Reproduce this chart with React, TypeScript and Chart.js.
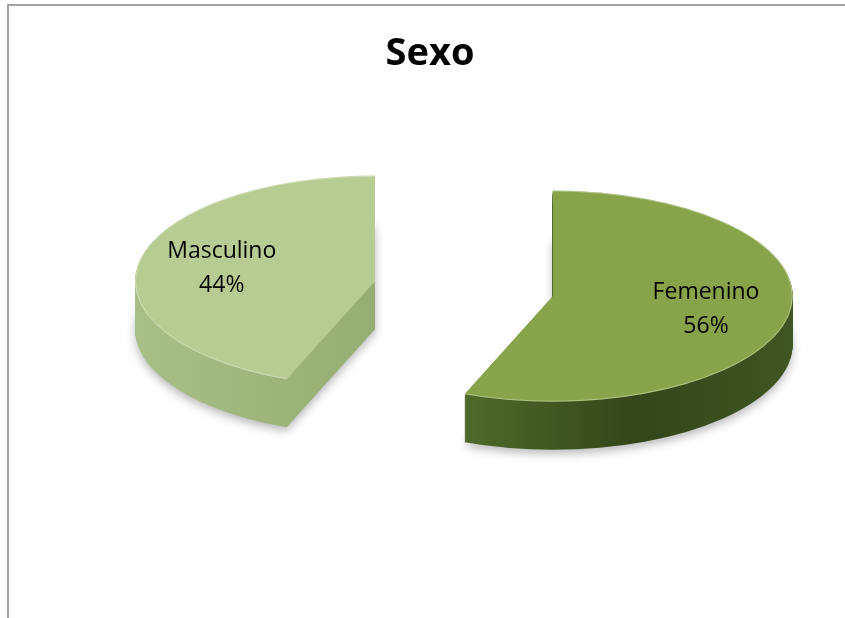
import { useEffect, useRef } from "react";
import { Chart, registerables } from "chart.js";

Chart.register(...registerables);

// ---- data ----
const TITLE = "Sexo";
const CATEGORIES = ["Femenino", "Masculino"];
const VALUES = [56, 44];

// ---- style ----
const TOP_COLORS = ["#88a44a", "#b7cc92"];
const SIDE_STOPS = [
  ["#62803a", "#4d6829", "#34461a", "#3f5522"],
  ["#a8bf88", "#9bb279", "#90a76d", "#8ba268"],
];
const EXPLODE = [125, 56];
const SQUASH = 0.44;
const DEPTH = 48;
const RADIUS = 240;

export default function App() {
  const ref = useRef<HTMLCanvasElement>(null);

  useEffect(() => {
    document.body.style.margin = "0";
    const canvas = ref.current!;

    const pie3d = {
      id: "pie3d",
      beforeDraw(chart: any) {
        const ctx = chart.ctx;
        ctx.save();
        ctx.fillStyle = "#ffffff";
        ctx.fillRect(0, 0, chart.width, chart.height);
        ctx.fillStyle = "#a3a3a3";
        ctx.fillRect(7, 4, chart.width - 7, 2);
        ctx.fillRect(7, 4, 2, chart.height - 4);
        ctx.restore();
      },
      beforeDatasetsDraw(chart: any) {
        const ctx = chart.ctx;
        const meta = chart.getDatasetMeta(0);
        const total = VALUES.reduce((a, b) => a + b, 0);
        const geo = meta.data.map((arc: any, i: number) => {
          const p = arc.getProps(["x", "y", "startAngle", "endAngle", "outerRadius"], true);
          const mid = (p.startAngle + p.endAngle) / 2;
          const cx = p.x + Math.cos(mid) * EXPLODE[i];
          const cy = p.y + Math.sin(mid) * EXPLODE[i] * SQUASH;
          return { ...p, mid, cx, cy, i };
        });
        const path = (g: any, dy: number) => {
          ctx.beginPath();
          ctx.moveTo(g.cx, g.cy + dy);
          ctx.ellipse(g.cx, g.cy + dy, g.outerRadius, g.outerRadius * SQUASH, 0, g.startAngle, g.endAngle);
          ctx.closePath();
        };
        // sides
        geo.forEach((g: any) => {
          const grad = ctx.createLinearGradient(g.cx - g.outerRadius, 0, g.cx + g.outerRadius, 0);
          const st = SIDE_STOPS[g.i];
          st.forEach((c, k) => grad.addColorStop(k / (st.length - 1), c));
          ctx.save();
          for (let k = DEPTH; k >= 1; k--) {
            if (k === DEPTH) {
              ctx.shadowColor = "rgba(0,0,0,0.28)";
              ctx.shadowBlur = 10;
              ctx.shadowOffsetY = 4;
            } else {
              ctx.shadowColor = "rgba(0,0,0,0)";
              ctx.shadowBlur = 0;
              ctx.shadowOffsetY = 0;
            }
            ctx.fillStyle = grad;
            path(g, k);
            ctx.fill();
          }
          ctx.restore();
        });
        // tops
        geo.forEach((g: any) => {
          ctx.save();
          ctx.fillStyle = TOP_COLORS[g.i];
          path(g, 0);
          ctx.fill();
          ctx.strokeStyle = "rgba(255,255,255,0.35)";
          ctx.lineWidth = 1;
          ctx.beginPath();
          ctx.ellipse(g.cx, g.cy, g.outerRadius - 0.5, g.outerRadius * SQUASH - 0.5, 0, g.startAngle, g.endAngle);
          ctx.stroke();
          ctx.restore();
        });
        // labels
        ctx.save();
        ctx.fillStyle = "#000000";
        ctx.font = '23px "Open Sans"';
        ctx.textAlign = "center";
        ctx.textBaseline = "middle";
        geo.forEach((g: any) => {
          const r = g.outerRadius * 0.65;
          const lx = g.cx + Math.cos(g.mid) * r;
          const ly = g.cy + Math.sin(g.mid) * r * SQUASH;
          const pct = Math.round((VALUES[g.i] / total) * 100) + "%";
          ctx.fillText(CATEGORIES[g.i], lx, ly - 17);
          ctx.fillText(pct, lx, ly + 17);
        });
        ctx.restore();
        return false;
      },
    };

    const chart = new Chart(canvas, {
      type: "pie",
      data: {
        labels: CATEGORIES,
        datasets: [
          {
            data: VALUES,
            backgroundColor: TOP_COLORS,
            borderWidth: 0,
            radius: RADIUS,
          } as any,
        ],
      },
      options: {
        responsive: false,
        animation: false,
        layout: { padding: { left: 15, right: 0, top: 0, bottom: 133 } },
        plugins: {
          legend: { display: false },
          tooltip: { enabled: false },
          title: {
            display: true,
            text: TITLE,
            color: "#000000",
            font: { family: '"Open Sans"', size: 38, weight: "bold" },
            padding: { top: 31, bottom: 10 },
          },
        },
      },
      plugins: [pie3d],
    });
    return () => chart.destroy();
  }, []);

  return <canvas ref={ref} width={845} height={618} style={{ display: "block" }} />;
}
